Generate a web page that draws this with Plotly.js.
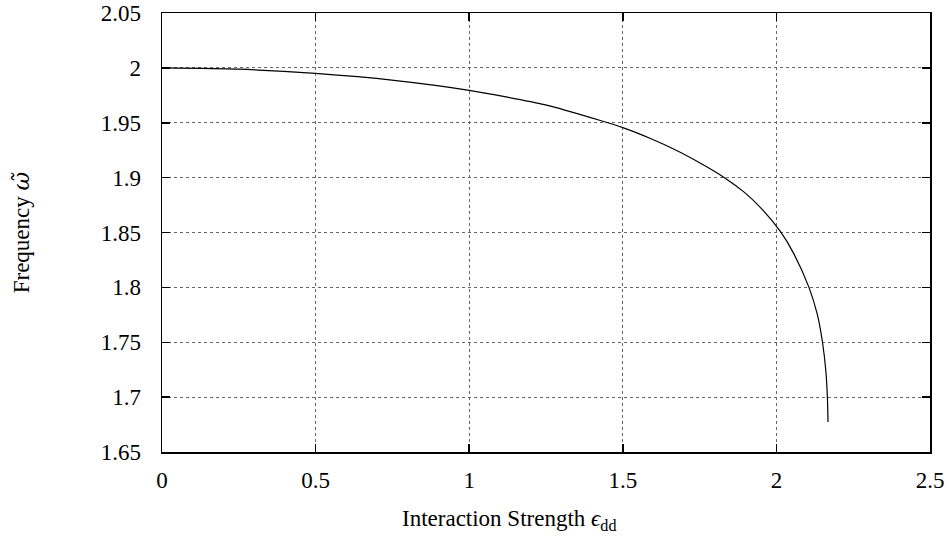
<!DOCTYPE html>
<html>
<head>
<meta charset="utf-8">
<script src="https://cdn.plot.ly/plotly-3.0.1.min.js"></script>
<style>html,body{margin:0;padding:0;background:#fff;}#chart{width:952px;height:545px;}</style>
</head>
<body>
<div id="chart"></div>
<script>
const interactionStrength = [0, 0.25, 0.5, 0.755, 1.0, 1.245, 1.427, 1.5, 1.59, 1.677, 1.753, 1.831, 1.894, 1.949, 2.014, 2.057, 2.106, 2.133, 2.150, 2.161, 2.166, 2.168];
const frequency = [2.0, 1.9988, 1.9949, 1.9886, 1.9795, 1.9665, 1.952, 1.9455, 1.9356, 1.9245, 1.9131, 1.900, 1.8870, 1.8725, 1.8505, 1.8305, 1.80, 1.7756, 1.75, 1.7238, 1.70, 1.6774];
const xTicks = [0, 0.5, 1, 1.5, 2, 2.5];
const xTickLabels = ["0", "0.5", "1", "1.5", "2", "2.5"];
const yTicks = [1.65, 1.7, 1.75, 1.8, 1.85, 1.9, 1.95, 2, 2.05];
const yTickLabels = ["1.65", "1.7", "1.75", "1.8", "1.85", "1.9", "1.95", "2", "2.05"];
const xTitle = "Interaction Strength <i>ϵ</i><sub>dd</sub>";
const yTitle = "Frequency <span style=\"font-family:'DejaVu Serif'\"><i>ω̃</i></span>";

const font = {family: "Liberation Serif", size: 23, color: "#000"};

const trace = {
  x: interactionStrength,
  y: frequency,
  type: "scatter",
  mode: "lines",
  line: {color: "#000", width: 1.2, shape: "spline", smoothing: 0.6},
  showlegend: false,
  hoverinfo: "skip"
};

const axisCommon = {
  showline: true, linecolor: "#000", linewidth: 1.5, mirror: "ticks",
  ticks: "inside", ticklen: 8, tickwidth: 1.5, tickcolor: "#000",
  showgrid: true, gridcolor: "#666", gridwidth: 1, griddash: "dot",
  zeroline: false, tickfont: font, fixedrange: true
};

const layout = {
  width: 952, height: 545,
  margin: {l: 162, r: 22, t: 13, b: 93},
  paper_bgcolor: "#fff", plot_bgcolor: "#fff",
  font: font,
  xaxis: Object.assign({}, axisCommon, {
    range: [0, 2.5], tickmode: "array", tickvals: xTicks, ticktext: xTickLabels,
    ticklabelstandoff: 7
  }),
  yaxis: Object.assign({}, axisCommon, {
    range: [1.65, 2.05], tickmode: "array", tickvals: yTicks, ticktext: yTickLabels,
    ticklabelstandoff: 15,
    title: {text: yTitle, font: font, standoff: 64}
  }),
  annotations: [{
    text: xTitle, xref: "paper", yref: "paper",
    x: 0.4518, y: -0.1545, xanchor: "center", yanchor: "middle",
    showarrow: false, font: font
  }]
};

Plotly.newPlot("chart", [trace], layout, {displayModeBar: false, staticPlot: true});
</script>
</body>
</html>
